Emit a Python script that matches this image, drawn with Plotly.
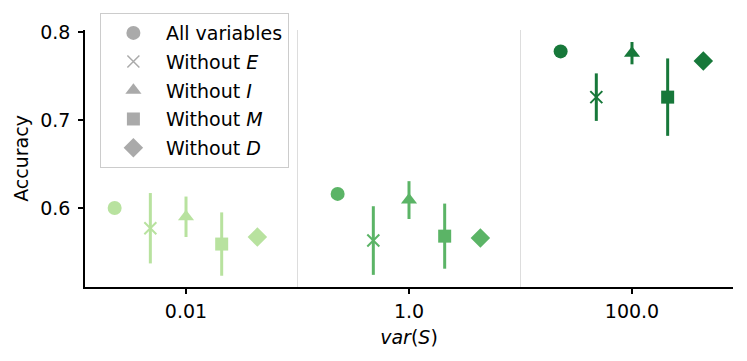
import plotly.graph_objects as go

categories = ["0.01", "1.0", "100.0"]
variants = ["All variables", "Without <i>E</i>", "Without <i>I</i>", "Without <i>M</i>", "Without <i>D</i>"]

all_vars = [0.600, 0.616, 0.778]
without_E = [0.577, 0.563, 0.726]
without_I = [0.590, 0.609, 0.776]
without_M = [0.559, 0.568, 0.726]
without_D = [0.567, 0.566, 0.767]

err_all = [0.0, 0.0, 0.0]
err_E = [0.040, 0.039, 0.027]
err_I = [0.023, 0.0215, 0.0127]
err_M = [0.036, 0.037, 0.044]
err_D = [0.0, 0.0, 0.0]

means = [all_vars, without_E, without_I, without_M, without_D]
errs = [err_all, err_E, err_I, err_M, err_D]

colors = ["#b8e29f", "#5bb466", "#17783a"]
symbols = ["circle", "x-thin", "triangle-up", "square", "diamond"]
sizes = [14, 12, 14, 13, 15]
offsets = [-0.32, -0.16, 0.0, 0.16, 0.32]

FONT = "DejaVu Sans"
FS = 19
fig = go.Figure()

for gi, cat in enumerate(categories):
    for vi in range(len(variants)):
        sym = symbols[vi]
        col = colors[gi]
        marker = dict(symbol=sym, size=sizes[vi], color=col)
        if sym == "x-thin":
            marker["line"] = dict(width=2, color=col)
        else:
            marker["line"] = dict(width=0)
        e = errs[vi][gi]
        fig.add_trace(go.Scatter(
            x=[gi + offsets[vi]], y=[means[vi][gi]],
            mode="markers", marker=marker, showlegend=False,
            error_y=dict(type="data", array=[e], visible=e > 0,
                         thickness=3, width=0, color=col),
        ))

for vi, name in enumerate(variants):
    sym = symbols[vi]
    marker = dict(symbol=sym, size=sizes[vi], color="#aaaaaa")
    if sym == "x-thin":
        marker["line"] = dict(width=1.5, color="#aaaaaa")
    else:
        marker["line"] = dict(width=0)
    fig.add_trace(go.Scatter(
        x=[None], y=[None], mode="markers", marker=marker, name=name,
        legendgroup=f"g{vi}", showlegend=True,
    ))

for xs in [0.5, 1.5]:
    fig.add_shape(type="line", x0=xs, x1=xs, y0=0, y1=1, xref="x", yref="paper",
                  line=dict(color="#dddddd", width=1), layer="below")

fig.update_layout(
    width=747, height=361,
    margin=dict(l=85, r=14, t=30, b=74),
    plot_bgcolor="white", paper_bgcolor="white",
    font=dict(family=FONT, size=FS, color="black"),
    xaxis=dict(
        range=[-0.453, 2.453], tickvals=[0, 1, 2], ticktext=categories,
        showgrid=False, zeroline=False, showline=True, linecolor="black", linewidth=1.5,
        ticks="outside", ticklen=5, tickcolor="black", tickwidth=1.5, automargin=False,
        tickfont=dict(size=FS), ticklabelstandoff=1,
        title=dict(text="<i>var</i>(<i>S</i>)", font=dict(size=FS), standoff=10),
    ),
    yaxis=dict(
        range=[0.5102, 0.8023], tickvals=[0.6, 0.7, 0.8], ticktext=["0.6", "0.7", "0.8"],
        showgrid=False, zeroline=False, showline=True, linecolor="black", linewidth=1.5,
        ticks="outside", ticklen=5, tickcolor="black", tickwidth=1.5, automargin=False,
        tickfont=dict(size=FS), ticklabelstandoff=4,
        title=dict(text="Accuracy", font=dict(size=FS), standoff=7),
    ),
    legend=dict(
        x=0.023, y=1.066, xanchor="left", yanchor="top",
        bordercolor="#cccccc", borderwidth=1, bgcolor="rgba(255,255,255,0.8)",
        font=dict(size=FS), tracegroupgap=1, itemwidth=55,
    ),
)

fig.write_html("out.html", config={"displayModeBar": False},
               post_script="document.body.style.margin='0';document.body.style.padding='0';")
